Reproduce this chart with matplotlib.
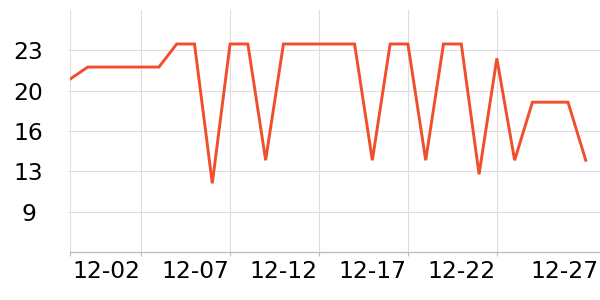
import matplotlib

matplotlib.use("Agg")
import matplotlib.pyplot as plt
import matplotlib.transforms as mtransforms

# Daily values, 11-28 .. 12-27
dates = [
    "11-28", "11-29", "11-30", "12-01", "12-02", "12-03", "12-04", "12-05",
    "12-06", "12-07", "12-08", "12-09", "12-10", "12-11", "12-12", "12-13",
    "12-14", "12-15", "12-16", "12-17", "12-18", "12-19", "12-20", "12-21",
    "12-22", "12-23", "12-24", "12-25", "12-26", "12-27",
]
values = [
    20.7, 21.75, 21.75, 21.75, 21.75, 21.75, 23.75, 23.75,
    11.66, 23.75, 23.75, 13.66, 23.75, 23.75, 23.75, 23.75,
    23.75, 13.66, 23.75, 23.75, 13.66, 23.75, 23.75, 12.44,
    22.5, 13.66, 18.7, 18.7, 18.7, 13.66,
]
y_ticks = [9.2, 12.7, 16.2, 19.7, 23.2]
y_labels = ["9", "13", "16", "20", "23"]
x_label_dates = ["12-02", "12-07", "12-12", "12-17", "12-22", "12-27"]

GRID = "#dedede"
AXIS = "#bdbdbd"
LINE = "#ef4f2d"

fig = plt.figure(figsize=(6, 3), dpi=100)
ax = fig.add_axes([70 / 600, 48 / 300, 530 / 600, 242 / 300])

x = list(range(len(dates)))
ax.plot(x, values, color=LINE, linewidth=2.1, solid_joinstyle="miter")

ax.set_xlim(0, 29.8)
ax.set_ylim(5.7, 26.7)

for s in ["top", "right", "left"]:
    ax.spines[s].set_visible(False)
ax.spines["bottom"].set_color(AXIS)
ax.spines["bottom"].set_linewidth(1)

# vertical grid: axis start plus labelled dates
grid_x = [0] + [dates.index(d) for d in x_label_dates[:-1]]
for gx in grid_x:
    ax.axvline(gx, color=GRID, linewidth=0.8, zorder=0)

ax.set_yticks(y_ticks)
ax.set_yticklabels(y_labels)
ax.yaxis.grid(True, color=GRID, linewidth=0.8)
ax.set_axisbelow(True)
ax.tick_params(axis="y", length=1.5, color=GRID, pad=28.4, labelsize=16.8)
for lab in ax.get_yticklabels():
    lab.set_horizontalalignment("center")

tick_x = [0] + [dates.index(d) for d in x_label_dates]
ax.set_xticks(tick_x)
ax.set_xticklabels([""] + x_label_dates)
ax.tick_params(axis="x", length=3, color=AXIS, pad=3.0, labelsize=16.8)
labels = ax.get_xticklabels()
for i, lab in enumerate(labels):
    lab.set_horizontalalignment("right")
    dx = -1.0 if i < len(labels) - 1 else 12.5  # pixels
    lab.set_transform(
        lab.get_transform()
        + mtransforms.ScaledTranslation(dx / 100, 0, fig.dpi_scale_trans)
    )
# no tick mark under the last label
ax.xaxis.get_major_ticks()[-1].tick1line.set_visible(False)

fig.savefig("out.png", dpi=100)
